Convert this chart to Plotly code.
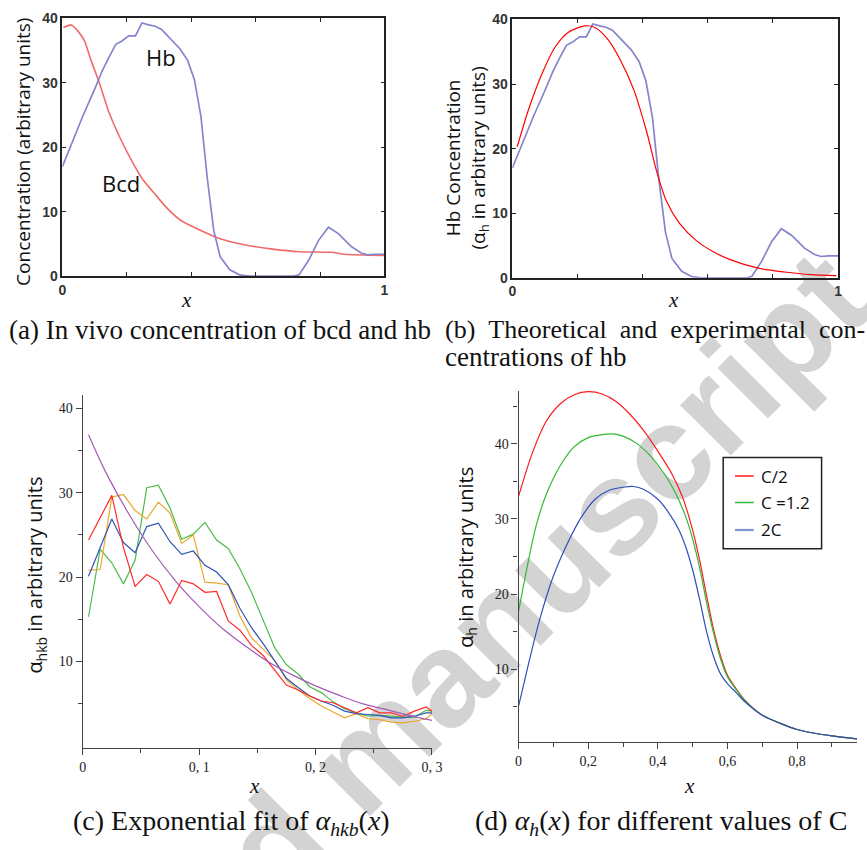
import math
import plotly.graph_objects as go

W, H = 867, 850

# ---------------- data ----------------
# (a)/(b) experimental Hb profile
hb_x = [0.0, 0.03, 0.064, 0.1, 0.125, 0.145, 0.166, 0.185, 0.206, 0.227, 0.247, 0.268, 0.288,
        0.308, 0.338, 0.365, 0.389, 0.41, 0.43, 0.45, 0.47, 0.49, 0.52, 0.55, 0.58, 0.65,
        0.72, 0.735, 0.765, 0.796, 0.826, 0.857, 0.897, 0.928, 0.948, 0.97, 1.0]
hb_y = [17.0, 20.8, 24.9, 29.0, 32.0, 34.0, 36.0, 36.5, 37.3, 37.3, 39.3, 39.0, 38.8,
        38.3, 36.8, 35.3, 33.5, 30.5, 24.9, 15.2, 7.1, 3.0, 1.0, 0.2, 0.0, 0.0,
        0.0, 0.2, 2.5, 5.6, 7.6, 6.6, 4.6, 3.6, 3.3, 3.4, 3.4]
# (a) Bcd profile
bcd_x = [0.003, 0.028, 0.049, 0.069, 0.089, 0.115, 0.145, 0.176, 0.206, 0.247, 0.288, 0.328,
         0.369, 0.43, 0.49, 0.572, 0.653, 0.735, 0.836, 0.877, 1.0]
bcd_y = [38.6, 39.0, 38.0, 36.5, 33.5, 30.0, 25.4, 21.8, 18.8, 15.2, 12.7, 10.4,
         8.6, 7.1, 5.8, 4.8, 4.2, 3.8, 3.7, 3.4, 3.2]
# (b) theoretical Hb
th_x = [0.015, 0.05, 0.091, 0.131, 0.171, 0.222, 0.252, 0.292, 0.332, 0.373, 0.413, 0.443,
        0.473, 0.514, 0.564, 0.614, 0.675, 0.755, 0.836, 0.916, 0.995]
th_y = [20.3, 26.1, 31.6, 35.7, 38.0, 39.0, 38.8, 37.0, 33.7, 29.1, 22.5, 16.5,
        11.9, 8.4, 5.8, 4.1, 2.7, 1.5, 0.9, 0.5, 0.35]

# (c) alpha_hkb samples
c_x = [0.005, 0.015, 0.025, 0.035, 0.045, 0.055, 0.065, 0.075, 0.085, 0.095, 0.105, 0.115,
       0.125, 0.135, 0.145, 0.155, 0.165, 0.175, 0.185, 0.195, 0.205, 0.215, 0.225, 0.235,
       0.245, 0.255, 0.265, 0.275, 0.285, 0.295, 0.3]
c_red = [24.4, 27.0, 29.7, 23.5, 18.9, 20.3, 19.5, 16.8, 19.6, 19.2, 18.2, 18.3, 14.8, 13.7,
         11.9, 10.7, 9.0, 7.2, 6.6, 5.9, 5.3, 5.1, 4.5, 3.9, 4.5, 3.9, 3.9, 3.5, 4.1, 4.6, 4.1]
c_blue = [20.1, 23.5, 26.9, 24.1, 22.9, 26.0, 26.4, 24.2, 22.7, 23.1, 21.4, 20.6, 19.1, 16.3,
          14.0, 12.1, 10.1, 8.0, 6.9, 5.9, 5.3, 4.8, 4.1, 3.8, 3.7, 3.6, 3.3, 3.3, 3.5, 3.9, 3.9]
c_green = [15.3, 23.3, 21.7, 19.2, 22.0, 30.6, 30.9, 28.2, 24.5, 25.1, 26.5, 24.4, 23.4, 21.0,
           18.2, 15.0, 11.6, 9.6, 8.5, 7.0, 6.3, 5.2, 4.4, 3.9, 3.5, 3.6, 3.5, 3.4, 3.4, 4.2, 4.1]
c_orange = [20.8, 20.9, 29.5, 29.8, 27.9, 26.9, 28.9, 27.6, 24.0, 25.0, 19.4, 19.3, 19.1, 15.4,
            12.8, 11.5, 10.1, 7.8, 6.6, 5.6, 4.7, 4.0, 3.3, 3.8, 3.2, 3.1, 2.8, 2.7, 2.9, 3.2, 3.8]
fit_x = [0.005, 0.02, 0.04, 0.06, 0.08, 0.10, 0.12, 0.14, 0.16, 0.18, 0.20, 0.22, 0.24, 0.26,
         0.28, 0.30]
fit_y = [36.9, 32.4, 27.4, 23.1, 19.5, 16.5, 13.9, 11.8, 9.9, 8.4, 7.1, 6.0, 5.0, 4.3, 3.6, 3.0]

# (d) alpha_h for different C
d_red_x = [0, 0.04, 0.08, 0.12, 0.16, 0.20, 0.24, 0.28, 0.32, 0.36, 0.40, 0.44, 0.47, 0.50,
           0.52, 0.54, 0.56, 0.58, 0.60, 0.625, 0.65, 0.70, 0.75, 0.80, 0.85, 0.90, 0.972]
d_red_y = [33.0, 38.8, 43.0, 45.3, 46.5, 46.9, 46.6, 45.6, 43.9, 41.7, 39.0, 36.0, 33.0, 28.5,
           24.5, 19.8, 15.3, 11.8, 9.2, 7.4, 5.9, 3.9, 2.85, 2.0, 1.5, 1.15, 0.75]
d_green_x = [0, 0.02, 0.05, 0.08, 0.12, 0.16, 0.20, 0.24, 0.27, 0.30, 0.34, 0.38, 0.42, 0.45,
             0.48, 0.50, 0.52, 0.54, 0.56, 0.58, 0.60, 0.625, 0.65, 0.70, 0.75, 0.80, 0.85,
             0.90, 0.972]
d_green_y = [17.7, 22.5, 29.0, 33.3, 37.1, 39.6, 40.8, 41.2, 41.3, 41.0, 40.0, 38.3, 35.9, 33.5,
             30.3, 27.3, 23.5, 18.9, 14.8, 11.4, 9.0, 7.3, 5.85, 3.9, 2.85, 2.0, 1.5, 1.15, 0.75]
d_blue_x = [0, 0.03, 0.06, 0.10, 0.14, 0.18, 0.22, 0.26, 0.30, 0.33, 0.36, 0.40, 0.43, 0.46,
            0.48, 0.50, 0.52, 0.54, 0.56, 0.58, 0.60, 0.625, 0.65, 0.70, 0.75, 0.80, 0.85,
            0.90, 0.972]
d_blue_y = [5.1, 11.0, 16.5, 22.4, 26.7, 30.2, 32.6, 33.8, 34.2, 34.3, 33.9, 32.6, 30.9, 28.6,
            26.3, 23.2, 19.3, 15.0, 11.7, 9.4, 8.1, 6.9, 5.7, 3.9, 2.85, 2.0, 1.5, 1.15, 0.75]

legend_names = ["C/2", "C =1.2", "2C"]

# ---------------- helpers ----------------
def px(x):
    return x / W

def py(y):
    return 1 - y / H

SERIF = "Liberation Serif"
SANS = "Open Sans"

fig = go.Figure()

# (a)
fig.add_trace(go.Scatter(x=bcd_x, y=bcd_y, mode="lines", line=dict(color="#f26a6a", width=1.6, shape="spline", smoothing=0.6),
                         xaxis="x", yaxis="y", showlegend=False))
fig.add_trace(go.Scatter(x=hb_x, y=hb_y, mode="lines", line=dict(color="#8585cc", width=1.7),
                         xaxis="x", yaxis="y", showlegend=False))
# (b)
fig.add_trace(go.Scatter(x=hb_x, y=hb_y, mode="lines", line=dict(color="#8585cc", width=1.7),
                         xaxis="x2", yaxis="y2", showlegend=False))
fig.add_trace(go.Scatter(x=th_x, y=th_y, mode="lines", line=dict(color="#ff0000", width=1.2, shape="spline", smoothing=0.8),
                         xaxis="x2", yaxis="y2", showlegend=False))
# (c)
for ys, col in [(c_green, "#4cbb4c"), (c_orange, "#e8a82c"), (c_blue, "#2f55b5"), (c_red, "#ff2a2a")]:
    fig.add_trace(go.Scatter(x=c_x, y=ys, mode="lines", line=dict(color=col, width=1.2),
                             xaxis="x3", yaxis="y3", showlegend=False))
fig.add_trace(go.Scatter(x=fit_x, y=fit_y, mode="lines", line=dict(color="#a55bb5", width=1.2, shape="spline"),
                         xaxis="x3", yaxis="y3", showlegend=False))
# (d)
d_series = [(d_red_x, d_red_y, "#ff1a1a"), (d_green_x, d_green_y, "#33b833"), (d_blue_x, d_blue_y, "#2d4fb8")]
for (xs, ys, col), nm in zip(d_series, legend_names):
    fig.add_trace(go.Scatter(x=xs, y=ys, mode="lines", name=nm, line=dict(color=col, width=1.2, shape="spline", smoothing=0.8),
                             xaxis="x4", yaxis="y4", showlegend=False))

# ---------------- axes ----------------
boxfont = dict(family="Liberation Sans", size=14, color="#333", weight="bold")
box_common = dict(showline=True, linecolor="#222", linewidth=1.5, mirror="ticks", ticks="inside",
                  ticklen=4, tickcolor="#222", showgrid=False, zeroline=False, tickfont=boxfont)
ser_font = dict(family=SERIF, size=14, color="#222")
open_common = dict(showline=True, linecolor="#444", linewidth=1.2, ticks="outside", ticklen=6,
                   tickcolor="#444", showgrid=False, zeroline=False, tickfont=ser_font)
box_minor_x = dict(tickmode="array", tickvals=[0.2, 0.4, 0.6, 0.8], ticks="inside", ticklen=4, tickcolor="#222")

fig.update_layout(
    xaxis=dict(domain=[px(59.3), px(386.7)], range=[0, 1], tickmode="array",
               tickvals=[0, 1], ticktext=["0", "1"], anchor="y", minor=box_minor_x, **box_common),
    yaxis=dict(domain=[py(273.3), py(10.7)], range=[0, 40], tickmode="array",
               tickvals=[0, 10, 20, 30, 40], anchor="x", **box_common),
    xaxis2=dict(domain=[px(516.7), px(847.7)], range=[0, 1], tickmode="array",
                tickvals=[0, 1], ticktext=["0", "1"], anchor="y2", minor=box_minor_x, **box_common),
    yaxis2=dict(domain=[py(275), py(11.7)], range=[0, 40], tickmode="array",
                tickvals=[0, 10, 20, 30, 40], anchor="x2", **box_common),
    xaxis3=dict(domain=[px(80), px(435)], range=[0, 0.3], tickmode="array",
                tickvals=[0, 0.1, 0.2, 0.3], ticktext=["0", "0, 1", "0, 2", "0, 3"], anchor="y3",
                minor=dict(tickmode="array", tickvals=[0.05, 0.15, 0.25], ticks="outside", ticklen=4, tickcolor="#444"),
                **open_common),
    yaxis3=dict(domain=[py(754), py(394.5)], range=[-0.25, 41.6], tickmode="array",
                tickvals=[10, 20, 30, 40], anchor="x3",
                minor=dict(tickmode="array", tickvals=[5, 15, 25, 35], ticks="outside", ticklen=4, tickcolor="#444"),
                **open_common),
    xaxis4=dict(domain=[px(523), 1.0], range=[0, 0.972], tickmode="array",
                tickvals=[0, 0.2, 0.4, 0.6, 0.8], ticktext=["0", "0,2", "0,4", "0,6", "0,8"], anchor="y4",
                minor=dict(tickmode="array", tickvals=[0.1, 0.3, 0.5, 0.7, 0.9], ticks="outside", ticklen=4, tickcolor="#444"),
                **open_common),
    yaxis4=dict(domain=[py(748.4), py(390.3)], range=[0.3, 47], tickmode="array",
                tickvals=[10, 20, 30, 40], anchor="x4",
                minor=dict(tickmode="array", tickvals=[5, 15, 25, 35, 45], ticks="outside", ticklen=4, tickcolor="#444"),
                **open_common),
)

# ---------------- text ----------------
ann = []
def add_text(x, y, text, size, family=SANS, color="#111", angle=0, xanchor="center", yanchor="middle", align="center"):
    ann.append(dict(x=px(x), y=py(y), xref="paper", yref="paper", text=text, showarrow=False,
                    font=dict(family=family, size=size, color=color), textangle=angle,
                    xanchor=xanchor, yanchor=yanchor, align=align))

add_text(20, 147, "Concentration (arbitrary units)", 19, angle=-90)
add_text(160, 50, "Hb", 22)
add_text(119, 178, "Bcd", 22)
add_text(470, 153, "Hb Concentration<br>(α<sub>h</sub> in arbitrary units)", 19, angle=-90)
add_text(32, 578, "α<sub>hkb</sub> in arbitrary units", 20, angle=-90)
add_text(470, 560, "α<sub>h</sub> in arbitrary units", 20, angle=-90)
for xx, yy in [(185, 298), (680, 298), (255, 793), (697, 793)]:
    add_text(xx, yy, "<i>x</i>", 21, family=SERIF)
add_text(3, 328, "(a) In vivo concentration of bcd and hb", 27, family=SERIF, xanchor="left")
add_text(446, 328, "(b) \u00a0Theoretical \u00a0and \u00a0experimental \u00a0con-", 26, family=SERIF, xanchor="left")
add_text(446, 356, "centrations of hb", 27, family=SERIF, xanchor="left")
add_text(231, 830, "(c) Exponential fit of <i>α<sub>hkb</sub></i>(<i>x</i>)", 28, family=SERIF)
add_text(668, 830, "(d) <i>α<sub>h</sub></i>(<i>x</i>) for different values of C", 28, family=SERIF)

# legend for (d)
leg_cols = ["#ff1a1a", "#33b833", "#8096d0"]
leg_rows = [477, 504, 532]
shapes = [dict(type="rect", xref="paper", yref="paper", x0=px(731), x1=px(831), y0=py(551), y1=py(458),
               line=dict(color="#222", width=1.5), fillcolor="white")]
for nm, col, ry in zip(legend_names, leg_cols, leg_rows):
    shapes.append(dict(type="line", xref="paper", yref="paper", x0=px(743), x1=px(762), y0=py(ry), y1=py(ry),
                       line=dict(color=col, width=1.5 if col != "#8096d0" else 2.2)))
    add_text(767, ry, nm, 17, xanchor="left")

# watermark (drawn below the data)
cx, cy = 352, 758
shapes.insert(0, dict(type="line", xref="paper", yref="paper", layer="below",
                      x0=px(cx - 1), y0=py(cy), x1=px(cx + 1), y1=py(cy),
                      line=dict(color="rgba(0,0,0,0)", width=0),
                      label=dict(text="Accepted manuscript", textposition="middle", textangle=-45,
                                 xanchor="center", yanchor="middle",
                                 font=dict(family="Liberation Sans", size=135, color="#d3d3d3", weight="bold"))))

fig.update_layout(width=W, height=H, margin=dict(l=0, r=0, t=0, b=0),
                  paper_bgcolor="white", plot_bgcolor="rgba(0,0,0,0)",
                  annotations=ann, shapes=shapes, showlegend=False)

fig.write_html("out.html", config={"displayModeBar": False},
               post_script="document.body.style.margin='0px';")
